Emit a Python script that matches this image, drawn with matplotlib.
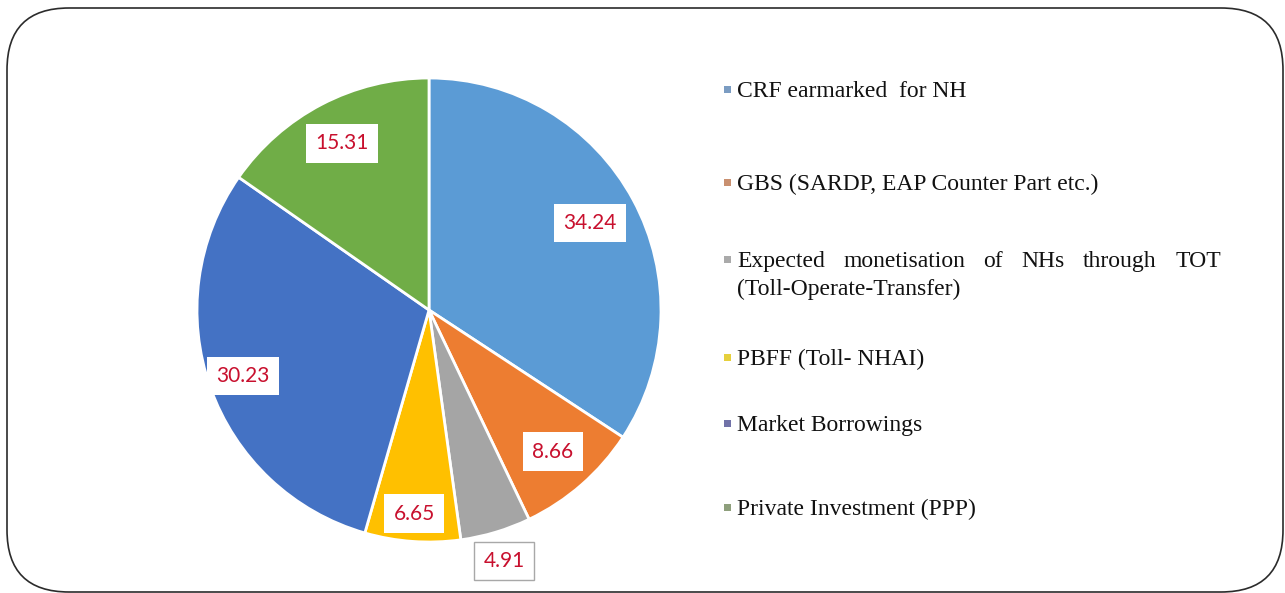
import matplotlib
matplotlib.use("Agg")
import matplotlib.pyplot as plt
from matplotlib.patches import FancyBboxPatch, Rectangle
import numpy as np

categories = [
    "CRF earmarked  for NH",
    "GBS (SARDP, EAP Counter Part etc.)",
    "Expected monetisation of NHs through TOT (Toll-Operate-Transfer)",
    "PBFF (Toll- NHAI)",
    "Market Borrowings",
    "Private Investment (PPP)",
]
values = [34.24, 8.66, 4.91, 6.65, 30.23, 15.31]
value_labels = ["34.24", "8.66", "4.91", "6.65", "30.23", "15.31"]
slice_colors = ["#5B9BD5", "#ED7D31", "#A5A5A5", "#FFC000", "#4472C4", "#70AD47"]
marker_colors = ["#7B9CC2", "#C99070", "#AAAAAA", "#E6D03C", "#7172A8", "#8E9F7C"]

W, H = 1285, 593
fig = plt.figure(figsize=(W / 100, H / 100), dpi=100)
ax = fig.add_axes([0, 0, 1, 1])

# rounded frame round the whole picture
frame = FancyBboxPatch((7, 1), 1276, 584, boxstyle="round,pad=0,rounding_size=62",
                       facecolor="white", edgecolor="#2b2b2b", linewidth=1.2, zorder=0)
ax.add_patch(frame)

cx, cy, r = 429, H - 310, 232
wedges, _ = ax.pie(values, colors=slice_colors, startangle=90, counterclock=False,
                   radius=r, center=(cx, cy),
                   wedgeprops=dict(edgecolor="white", linewidth=2))
ax.set_xlim(0, W)
ax.set_ylim(0, H)
ax.set_aspect("equal")
ax.axis("off")

# data labels, pushed out a bit along each slice's middle angle
label_radius = [0.79, 0.81, 1.13, 0.88, 0.85, 0.81]
for w, txt, lr in zip(wedges, value_labels, label_radius):
    mid = np.deg2rad((w.theta1 + w.theta2) / 2)
    edge = "#A8A8A8" if lr > 1 else "none"
    ax.text(cx + lr * r * np.cos(mid), cy + lr * r * np.sin(mid), txt,
            ha="center", va="center", fontsize=15, family="Lato", color="#C8102E",
            bbox=dict(boxstyle="square,pad=0.45", facecolor="white",
                      edgecolor=edge, linewidth=1.0), zorder=5)

# legend drawn by hand (one entry is justified over two lines)
leg_x, text_x, just_right = 727, 737, 1221
baselines = [97, 190, 267, 365, 431, 515]
line_gap = 28
fs = 17
renderer = fig.canvas.get_renderer()

for cat, mc, base in zip(categories, marker_colors, baselines):
    y = H - base
    ax.add_patch(Rectangle((leg_x - 3.5, y + 4), 7, 7, facecolor=mc, edgecolor="none"))
    if "TOT" in cat:
        first, second = cat.split(" (")
        words = first.split()
        items = [ax.text(0, y, wd, fontsize=fs, family="Liberation Serif", color="#111111")
                 for wd in words]
        widths = [t.get_window_extent(renderer).width for t in items]
        gap = (just_right - text_x - sum(widths)) / (len(words) - 1)
        x = text_x
        for t, wdt in zip(items, widths):
            t.set_x(x)
            x += wdt + gap
        ax.text(text_x, y - line_gap, "(" + second, fontsize=fs,
                family="Liberation Serif", color="#111111")
    else:
        ax.text(text_x, y, cat, fontsize=fs, family="Liberation Serif", color="#111111")

fig.savefig("out.png", dpi=100, facecolor="white")
